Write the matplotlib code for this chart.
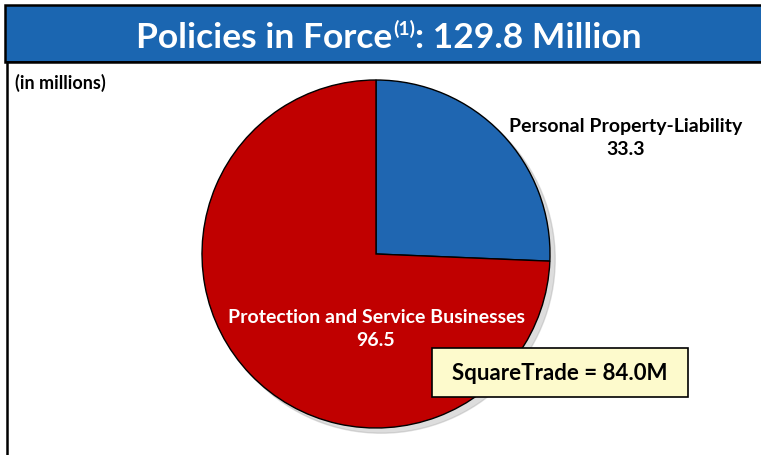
import matplotlib.pyplot as plt
from matplotlib.patches import Rectangle, Circle

plt.rcParams['font.family'] = ['Lato', 'DejaVu Sans']

# Data
segments = ['Personal Property-Liability', 'Protection and Service Businesses']
values = [33.3, 96.5]
colors = ['#1F66B1', '#C00000']
total_label = '129.8 Million'
note_text = 'SquareTrade = 84.0M'

W, H = 761, 455
fig = plt.figure(figsize=(W / 100, H / 100), dpi=100)


def fx(px):
    return px / W


def fy(py):
    return 1 - py / H


# Header bar
fig.patches.append(Rectangle((fx(5), fy(62)), fx(780) - fx(5), fy(5) - fy(62),
                             transform=fig.transFigure, facecolor='#1B66B1',
                             edgecolor='black', linewidth=1.8, zorder=1))
# Body border lines
fig.add_artist(plt.Line2D([fx(7), fx(7)], [fy(62), fy(460)], color='black', lw=1.8))
fig.add_artist(plt.Line2D([fx(7), fx(770)], [fy(62), fy(62)], color='black', lw=1.2))

# Title with superscript
title_main = fig.text(0, fy(38), 'Policies in Force', color='white', fontsize=25.5,
                      fontweight='bold', va='center', ha='left', zorder=3)
title_sup = fig.text(0, fy(29), '(1)', color='white', fontsize=14,
                     fontweight='bold', va='center', ha='left', zorder=3)
title_rest = fig.text(0, fy(38), ': ' + total_label, color='white', fontsize=25.5,
                      fontweight='bold', va='center', ha='left', zorder=3)
renderer = fig.canvas.get_renderer()
w1 = title_main.get_window_extent(renderer).width
w2 = title_sup.get_window_extent(renderer).width
w3 = title_rest.get_window_extent(renderer).width
start = 388 - (w1 + w2 + w3) / 2
title_main.set_x(fx(start))
title_sup.set_x(fx(start + w1 + 1))
title_rest.set_x(fx(start + w1 + w2 + 1))

fig.text(fx(15), fy(83), '(in millions)', fontsize=13, fontweight='bold', va='center')

# Pie
ax = fig.add_axes([fx(202), fy(428), fx(348), 348 / H])
ax.add_patch(Circle((0.03, -0.03), 1.0, color='#A0A0A0', alpha=0.35, zorder=0, clip_on=False))
wedges, _ = ax.pie(values, colors=colors, startangle=90, counterclock=False,
                   radius=1.0, wedgeprops=dict(edgecolor='black', linewidth=1.0))
for w in wedges:
    w.set_clip_on(False)
ax.set_xlim(-1, 1)
ax.set_ylim(-1, 1)
ax.set_aspect('equal')
ax.axis('off')

fig.text(fx(626), fy(138), f'{segments[0]}\n{values[0]:.1f}', fontsize=14, fontweight='bold',
         ha='center', va='center', linespacing=1.45)
fig.text(fx(376), fy(329), f'{segments[1]}\n{values[1]:.1f}', fontsize=14, fontweight='bold',
         ha='center', va='center', color='white', linespacing=1.45)

# Note box
fig.patches.append(Rectangle((fx(432), fy(397)), fx(688) - fx(432), fy(348) - fy(397),
                             transform=fig.transFigure, facecolor='#FDFACC',
                             edgecolor='black', linewidth=1.2, zorder=4))
fig.text(fx(560), fy(373), note_text, fontsize=16, fontweight='bold',
         ha='center', va='center', zorder=5)

fig.savefig('out.png', dpi=100)
